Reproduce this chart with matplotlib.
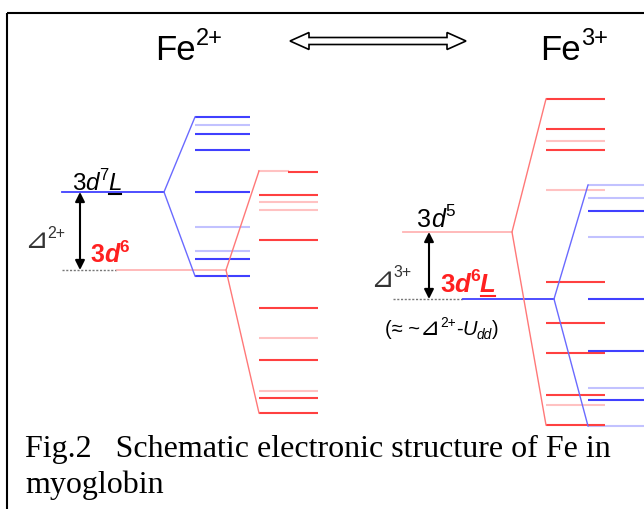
import matplotlib
matplotlib.use('Agg')
import matplotlib.pyplot as plt
from matplotlib.patches import Rectangle, Polygon

# energy levels (pixel rows, smaller = higher energy)
# 1 = strong colour, 0 = pale colour
fe2_blue_levels = [117, 125, 134, 150, 192, 227, 251, 259, 276]
fe2_blue_strong = [1, 0, 1, 1, 1, 0, 0, 1, 1]
fe2_red_levels = [172, 195, 202, 210, 240, 308, 338, 360, 391, 398, 413]
fe2_red_strong = [1, 1, 0, 0, 1, 1, 0, 1, 0, 1, 1]

fe3_red_levels = [99, 129, 141, 150, 190, 282, 323, 353, 395, 405, 425]
fe3_red_strong = [1, 1, 0, 1, 0, 1, 1, 1, 1, 0, 1]
fe3_blue_levels = [185, 198, 211, 237, 299, 351, 388, 400, 426]
fe3_blue_strong = [0, 0, 1, 0, 1, 1, 0, 1, 0]

# configuration levels
fe2_3d7L = 192
fe2_3d6 = 270
fe3_3d5 = 232
fe3_3d6L = 299

BLUE = '#4040ff'
BLUE_PALE = '#c2c2ff'
RED = '#ff4040'
RED_PALE = '#ffc2c2'
BLUE_LINK = '#6a6aff'
RED_LINK = '#ff7878'
SANS = ['Liberation Sans', 'DejaVu Sans']

fig = plt.figure(figsize=(6.44, 5.09), dpi=100)
ax = fig.add_axes([0, 0, 1, 1])
ax.set_xlim(0, 644)
ax.set_ylim(509, 0)
ax.axis('off')

# frame
ax.add_patch(Rectangle((7, 13), 700, 600, fill=False, ec='black', lw=1.5))


def levels(ys, strong, x0, x1, c_strong, c_pale):
    for y, s in zip(ys, strong):
        ax.plot([x0, x1], [y, y], color=c_strong if s else c_pale,
                lw=1.5, solid_capstyle='butt', zorder=3 if s else 2)


def split(xa, ya, xb, top, bot, c):
    ax.plot([xb, xa, xb], [top, ya, bot], color=c, lw=1.0, zorder=4)


# ---- Fe2+ ----
ax.plot([62, 164], [fe2_3d7L, fe2_3d7L], color=BLUE, lw=1.3)
split(164, fe2_3d7L, 195, fe2_blue_levels[0], fe2_blue_levels[-1], BLUE_LINK)
levels(fe2_blue_levels, fe2_blue_strong, 195, 250, BLUE, BLUE_PALE)

ax.plot([62, 117], [fe2_3d6, fe2_3d6], color='#777777', lw=1.0, ls=(0, (1.5, 1.2)))
ax.plot([117, 226], [fe2_3d6, fe2_3d6], color='#ffb4b4', lw=1.3)
split(226, fe2_3d6, 259, fe2_red_levels[0] - 1, fe2_red_levels[-1], RED_LINK)
levels(fe2_red_levels, fe2_red_strong, 288, 318, RED, RED_PALE)
levels(fe2_red_levels[1:], fe2_red_strong[1:], 259, 288, RED, RED_PALE)
ax.plot([259, 288], [fe2_red_levels[0] - 1] * 2, color=RED_PALE, lw=1.5)

ax.annotate('', xy=(80, fe2_3d7L), xytext=(80, fe2_3d6),
            arrowprops=dict(arrowstyle='<|-|>', color='black', lw=1.5,
                            mutation_scale=14, shrinkA=0, shrinkB=0))

# ---- Fe3+ ----
ax.plot([403, 512], [fe3_3d5, fe3_3d5], color='#ffb4b4', lw=1.3)
split(512, fe3_3d5, 546, fe3_red_levels[0], fe3_red_levels[-1], RED_LINK)
levels(fe3_red_levels, fe3_red_strong, 546, 605, RED, RED_PALE)

ax.plot([393, 463], [fe3_3d6L, fe3_3d6L], color='#777777', lw=1.0, ls=(0, (1.5, 1.2)))
ax.plot([463, 554], [fe3_3d6L, fe3_3d6L], color=BLUE, lw=1.3)
split(554, fe3_3d6L, 588, fe3_blue_levels[0], fe3_blue_levels[-1], BLUE_LINK)
levels(fe3_blue_levels, fe3_blue_strong, 588, 660, BLUE, BLUE_PALE)

ax.annotate('', xy=(429, fe3_3d5), xytext=(429, fe3_3d6L),
            arrowprops=dict(arrowstyle='<|-|>', color='black', lw=1.5,
                            mutation_scale=14, shrinkA=0, shrinkB=0))

# hollow double arrow between the titles
xl, xr, yc, hl, hh, sh = 290, 466, 41, 19, 8.5, 3.5
ax.add_patch(Polygon([(xl, yc), (xl + hl, yc - hh), (xl + hl, yc - sh),
                      (xr - hl, yc - sh), (xr - hl, yc - hh), (xr, yc),
                      (xr - hl, yc + hh), (xr - hl, yc + sh), (xl + hl, yc + sh),
                      (xl + hl, yc + hh)], closed=True, fc='white', ec='black', lw=1.2))


def rich(x, y, parts, size, color='black', weight='normal'):
    """parts: list of (text, kind) with kind in '', 'it', 'sup', 'sub_it', 'big'"""
    prev = None
    out = []
    for txt, kind in parts:
        fs, dy, style = size, 0, 'normal'
        if 'sup' in kind:
            fs, dy = size * 0.68, size * 0.42
        if 'sub' in kind:
            fs, dy = size * 0.68, -size * 0.22
        if 'big' in kind:
            fs = size * 1.2
        if 'it' in kind:
            style = 'italic'
        if prev is None:
            xy, coords = (x, y), 'data'
        else:
            xy, coords = (1, y), (prev, 'data')
        t = ax.annotate(txt, xy=xy, xycoords=coords, xytext=(0, dy),
                        textcoords='offset points', va='baseline', ha='left',
                        fontsize=fs, color=color, fontstyle=style,
                        fontweight=weight, family=SANS)
        prev = t
        out.append(t)
    return out


rich(155, 60, [('Fe', ''), ('2+', 'sup')], 25)
rich(540, 60, [('Fe', ''), ('3+', 'sup')], 25)

t1 = rich(72, 190, [('3', ''), ('d', 'it'), ('7', 'sup'), ('L', 'it')], 17.5)
rich(90, 262, [('3', ''), ('d', 'it'), ('6', 'sup')], 18, color='#ff2020', weight='bold')
rich(24, 248, [('\u22bf', 'big'), ('2+', 'sup')], 17, color='#333333')

rich(417, 227, [('3', ''), ('d', 'it'), ('5', 'sup')], 18)
rich(370, 287, [('\u22bf', 'big'), ('3+', 'sup')], 17, color='#333333')
t2 = rich(440, 292, [('3', ''), ('d', 'it'), ('6', 'sup'), ('L', 'it')], 18.5,
          color='#ff2020', weight='bold')
rich(385, 335, [('(\u2248 ~', ''), ('\u22bf', 'big'), ('2+', 'sup'), ('-', ''),
                ('U', 'it'), ('dd', 'sub_it'), (')', '')], 14.5)

# underline the L's
fig.canvas.draw()
inv = ax.transData.inverted()
for parts, yu, c in [(t1, 194, 'black'), (t2, 296, '#ff2020')]:
    bb = parts[-1].get_window_extent()
    (xa, _), (xb, _) = inv.transform([(bb.x0, bb.y0), (bb.x1, bb.y1)])
    ax.plot([xa + 1, xb - 1], [yu, yu], color=c, lw=1.5)

# caption
ax.text(25, 457, 'Fig.2   Schematic electronic structure of Fe in',
        family='Liberation Serif', fontsize=23, va='baseline')
ax.text(25, 493, 'myoglobin', family='Liberation Serif', fontsize=23, va='baseline')

fig.savefig('out.png', dpi=100)
